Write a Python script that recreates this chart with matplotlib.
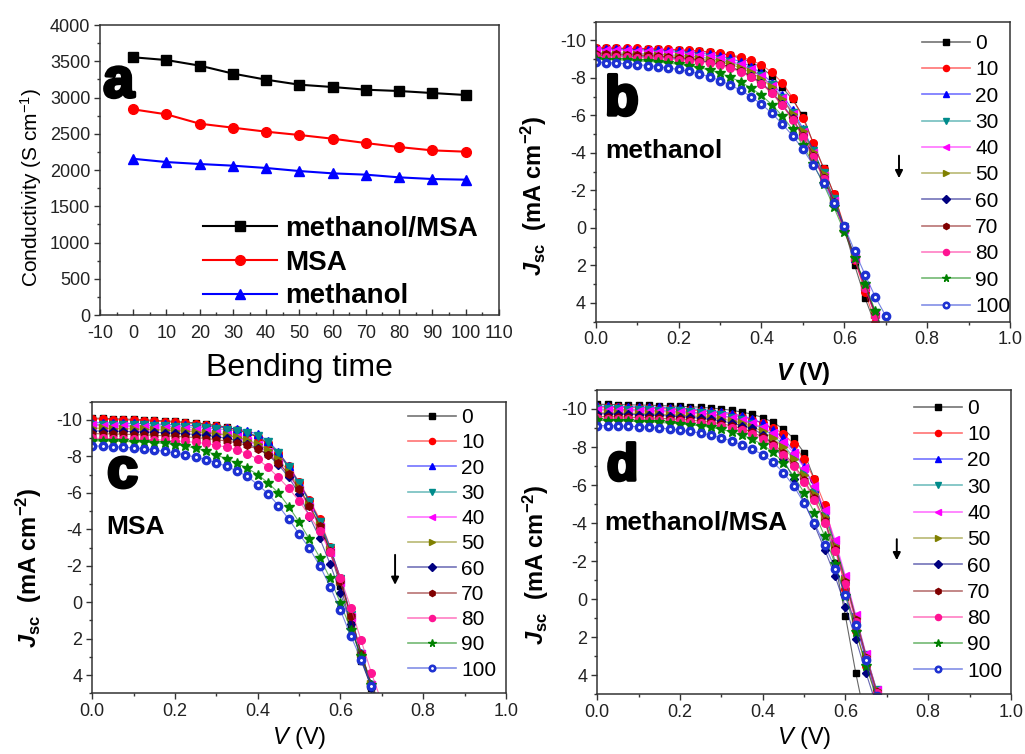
import matplotlib
matplotlib.use('Agg')
import matplotlib.pyplot as plt
import matplotlib.patheffects as pe
from matplotlib.colors import to_rgba
from matplotlib.lines import Line2D
from matplotlib.ticker import MultipleLocator, FormatStrFormatter
from matplotlib.legend_handler import HandlerTuple

plt.rcParams['font.family'] = ['Liberation Sans', 'DejaVu Sans']
plt.rcParams['axes.unicode_minus'] = False
plt.rcParams['mathtext.fontset'] = 'custom'
plt.rcParams['mathtext.rm'] = 'Liberation Sans'
plt.rcParams['mathtext.it'] = 'Liberation Sans:italic:bold'
plt.rcParams['mathtext.bf'] = 'Liberation Sans:bold'
plt.rcParams['mathtext.sf'] = 'Liberation Sans:italic'

# ---- panel a: conductivity vs bending cycles
bend_time = [0, 10, 20, 30, 40, 50, 60, 70, 80, 90, 100]
cond_meoh_msa = [3555, 3517, 3440, 3330, 3246, 3177, 3145, 3108, 3090, 3062, 3035]
cond_msa = [2837, 2768, 2639, 2584, 2529, 2483, 2432, 2372, 2317, 2271, 2253]
cond_meoh = [2155, 2110, 2083, 2060, 2028, 1986, 1954, 1936, 1899, 1876, 1867]

# ---- panels b-d: J-V curves after n bending cycles
voltage = [0.000, 0.025, 0.050, 0.075, 0.100, 0.125, 0.150, 0.175, 0.200, 0.225,
           0.250, 0.275, 0.300, 0.325, 0.350, 0.375, 0.400, 0.425, 0.450, 0.475,
           0.500, 0.525, 0.550, 0.575, 0.600, 0.625, 0.650, 0.675, 0.700, 0.725]
cycle_labels = ['0', '10', '20', '30', '40', '50', '60', '70', '80', '90', '100']

jv_methanol = [
    [-9.60, -9.59, -9.58, -9.57, -9.56, -9.55, -9.53, -9.51, -9.49, -9.46, -9.42, -9.37, -9.30, -9.20, -9.05, -8.85, -8.55, -8.10, -7.50, -6.85, -6.00, -4.50, -3.20, -1.80, 0.00, 2.00, 3.75, 5.20],
    [-9.62, -9.61, -9.60, -9.59, -9.58, -9.57, -9.55, -9.53, -9.51, -9.48, -9.44, -9.39, -9.32, -9.24, -9.12, -8.95, -8.70, -8.30, -7.75, -6.95, -5.85, -4.55, -3.15, -1.80, -0.10, 1.70, 3.40, 5.10],
    [-9.55, -9.54, -9.53, -9.52, -9.51, -9.49, -9.47, -9.45, -9.42, -9.38, -9.33, -9.26, -9.17, -9.04, -8.86, -8.60, -8.25, -7.75, -7.10, -6.30, -5.30, -4.15, -2.90, -1.55, 0.00, 1.60, 3.10, 4.55, 5.90],
    [-9.35, -9.34, -9.33, -9.32, -9.30, -9.28, -9.26, -9.23, -9.20, -9.16, -9.11, -9.04, -8.95, -8.83, -8.66, -8.42, -8.08, -7.60, -6.95, -6.15, -5.20, -4.10, -2.90, -1.55, -0.05, 1.55, 3.10, 4.55, 5.90],
    [-9.50, -9.49, -9.48, -9.47, -9.45, -9.43, -9.41, -9.38, -9.34, -9.30, -9.24, -9.16, -9.06, -8.92, -8.72, -8.45, -8.08, -7.58, -6.92, -6.10, -5.10, -3.98, -2.75, -1.42, 0.05, 1.62, 3.15, 4.60, 5.95],
    [-9.25, -9.24, -9.23, -9.22, -9.20, -9.18, -9.16, -9.13, -9.10, -9.06, -9.01, -8.94, -8.85, -8.72, -8.54, -8.30, -7.96, -7.50, -6.88, -6.10, -5.15, -4.05, -2.85, -1.50, 0.00, 1.58, 3.12, 4.58, 5.95],
    [-9.20, -9.19, -9.18, -9.16, -9.14, -9.12, -9.10, -9.07, -9.03, -8.98, -8.92, -8.84, -8.73, -8.58, -8.38, -8.10, -7.74, -7.25, -6.62, -5.85, -4.92, -3.85, -2.68, -1.38, 0.05, 1.62, 3.16, 4.62, 6.00],
    [-9.30, -9.29, -9.27, -9.25, -9.23, -9.20, -9.17, -9.13, -9.08, -9.02, -8.95, -8.86, -8.74, -8.58, -8.36, -8.07, -7.70, -7.20, -6.56, -5.80, -4.88, -3.82, -2.65, -1.35, 0.08, 1.65, 3.20, 4.66, 6.00],
    [-9.15, -9.14, -9.13, -9.11, -9.09, -9.07, -9.04, -9.01, -8.97, -8.92, -8.86, -8.78, -8.67, -8.52, -8.32, -8.04, -7.68, -7.18, -6.55, -5.78, -4.86, -3.80, -2.62, -1.32, 0.10, 1.68, 3.22, 4.70, 6.05],
    [-9.00, -8.98, -8.96, -8.94, -8.91, -8.88, -8.84, -8.79, -8.73, -8.65, -8.55, -8.42, -8.25, -8.04, -7.78, -7.46, -7.07, -6.58, -5.98, -5.25, -4.40, -3.42, -2.32, -1.10, 0.22, 1.60, 3.00, 4.45, 5.85],
    [-8.85, -8.82, -8.79, -8.75, -8.71, -8.66, -8.60, -8.53, -8.45, -8.35, -8.22, -8.06, -7.86, -7.62, -7.34, -7.00, -6.60, -6.12, -5.55, -4.92, -4.20, -3.35, -2.40, -1.30, -0.10, 1.25, 2.50, 3.70, 4.70, 5.70],
]

jv_msa = [
    [-10.10, -10.09, -10.07, -10.05, -10.03, -10.01, -9.98, -9.95, -9.92, -9.88, -9.84, -9.78, -9.70, -9.60, -9.47, -9.30, -9.05, -8.70, -8.15, -7.40, -6.50, -5.55, -4.45, -2.75, -0.90, 1.20, 3.20, 4.70, 6.00],
    [-10.05, -10.04, -10.02, -10.00, -9.98, -9.96, -9.93, -9.90, -9.87, -9.83, -9.79, -9.74, -9.67, -9.58, -9.46, -9.30, -9.06, -8.72, -8.20, -7.48, -6.60, -5.62, -4.55, -3.05, -1.30, 0.80, 2.90, 4.55, 6.00],
    [-9.85, -9.84, -9.83, -9.82, -9.81, -9.80, -9.78, -9.76, -9.74, -9.72, -9.69, -9.66, -9.62, -9.57, -9.50, -9.40, -9.22, -8.85, -8.25, -7.45, -6.55, -5.55, -4.40, -3.00, -1.30, 0.70, 2.80, 4.50, 6.00],
    [-9.75, -9.74, -9.73, -9.72, -9.71, -9.70, -9.68, -9.66, -9.64, -9.62, -9.59, -9.56, -9.52, -9.47, -9.40, -9.30, -9.12, -8.78, -8.20, -7.42, -6.52, -5.52, -4.38, -2.98, -1.28, 0.72, 2.82, 4.52, 6.00],
    [-9.70, -9.69, -9.67, -9.65, -9.63, -9.61, -9.58, -9.55, -9.52, -9.48, -9.43, -9.37, -9.29, -9.19, -9.05, -8.86, -8.60, -8.22, -7.68, -6.98, -6.15, -5.20, -4.10, -2.75, -1.10, 0.80, 2.85, 4.55, 6.00],
    [-9.55, -9.54, -9.53, -9.52, -9.51, -9.49, -9.47, -9.45, -9.42, -9.39, -9.35, -9.30, -9.24, -9.16, -9.05, -8.90, -8.68, -8.35, -7.85, -7.15, -6.30, -5.33, -4.22, -2.85, -1.18, 0.75, 2.80, 4.50, 6.00],
    [-9.40, -9.39, -9.38, -9.37, -9.36, -9.34, -9.32, -9.30, -9.27, -9.24, -9.20, -9.15, -9.08, -8.99, -8.87, -8.70, -8.45, -8.08, -7.55, -6.85, -5.95, -4.70, -3.50, -2.10, -0.50, 1.20, 3.05, 4.70, 6.10],
    [-9.25, -9.24, -9.23, -9.22, -9.20, -9.18, -9.16, -9.13, -9.10, -9.07, -9.03, -8.98, -8.92, -8.84, -8.74, -8.60, -8.40, -8.10, -7.65, -7.02, -6.22, -5.28, -4.18, -2.82, -1.15, 0.78, 2.82, 4.52, 6.00],
    [-9.00, -8.99, -8.98, -8.97, -8.96, -8.94, -8.92, -8.89, -8.86, -8.82, -8.77, -8.71, -8.62, -8.50, -8.35, -8.15, -7.85, -7.40, -6.85, -6.25, -5.55, -4.75, -3.90, -2.75, -1.35, 0.30, 2.10, 3.90, 5.50],
    [-8.85, -8.84, -8.83, -8.82, -8.80, -8.78, -8.75, -8.71, -8.65, -8.57, -8.45, -8.28, -8.08, -7.86, -7.62, -7.35, -7.00, -6.55, -6.00, -5.25, -4.40, -3.45, -2.45, -1.30, 0.05, 1.50, 2.95, 4.55, 6.10],
    [-8.58, -8.56, -8.54, -8.51, -8.47, -8.42, -8.35, -8.27, -8.18, -8.08, -7.96, -7.82, -7.65, -7.45, -7.20, -6.90, -6.45, -5.95, -5.30, -4.55, -3.75, -2.95, -2.00, -0.85, 0.45, 1.85, 3.15, 4.60, 6.00],
]

jv_meoh_msa = [
    [-10.25, -10.24, -10.23, -10.22, -10.21, -10.20, -10.18, -10.16, -10.14, -10.12, -10.09, -10.05, -10.00, -9.93, -9.84, -9.72, -9.55, -9.30, -8.95, -8.45, -7.70, -6.30, -4.30, -1.90, 0.90, 3.90, 6.50],
    [-10.10, -10.09, -10.08, -10.07, -10.06, -10.04, -10.02, -10.00, -9.97, -9.94, -9.90, -9.85, -9.78, -9.69, -9.57, -9.43, -9.25, -9.00, -8.70, -8.15, -7.35, -6.30, -4.95, -2.80, -0.55, 1.65, 3.50, 5.10],
    [-10.15, -10.14, -10.13, -10.12, -10.11, -10.10, -10.08, -10.06, -10.04, -10.01, -9.97, -9.92, -9.85, -9.76, -9.64, -9.48, -9.25, -8.92, -8.45, -7.80, -6.95, -5.85, -4.50, -2.90, -1.05, 1.00, 3.00, 4.80, 6.50],
    [-10.00, -9.99, -9.98, -9.97, -9.96, -9.94, -9.92, -9.90, -9.87, -9.84, -9.80, -9.74, -9.66, -9.55, -9.41, -9.22, -8.96, -8.60, -8.10, -7.45, -6.62, -5.60, -4.35, -2.85, -1.05, 0.95, 2.95, 4.75, 6.40],
    [-9.95, -9.94, -9.93, -9.92, -9.91, -9.89, -9.87, -9.85, -9.82, -9.79, -9.75, -9.70, -9.63, -9.54, -9.42, -9.26, -9.04, -8.72, -8.28, -7.68, -6.92, -5.95, -4.70, -3.10, -1.20, 0.85, 2.90, 4.75, 6.40],
    [-9.80, -9.79, -9.78, -9.77, -9.76, -9.74, -9.72, -9.70, -9.67, -9.64, -9.60, -9.55, -9.48, -9.38, -9.25, -9.07, -8.82, -8.47, -7.98, -7.35, -6.55, -5.55, -4.32, -2.82, -1.02, 1.00, 3.00, 4.80, 6.50],
    [-9.75, -9.74, -9.73, -9.72, -9.70, -9.68, -9.66, -9.63, -9.60, -9.56, -9.51, -9.45, -9.37, -9.26, -9.12, -8.98, -8.65, -8.15, -7.35, -6.30, -5.10, -3.90, -2.60, -1.20, 0.40, 2.10, 3.90, 5.60],
    [-9.60, -9.59, -9.58, -9.57, -9.55, -9.53, -9.51, -9.48, -9.45, -9.41, -9.36, -9.30, -9.22, -9.11, -8.97, -8.78, -8.52, -8.17, -7.70, -7.08, -6.28, -5.30, -4.10, -2.65, -0.90, 1.10, 3.10, 4.90, 6.60],
    [-9.50, -9.49, -9.48, -9.47, -9.45, -9.43, -9.41, -9.38, -9.35, -9.31, -9.26, -9.20, -9.12, -9.01, -8.87, -8.68, -8.42, -8.07, -7.60, -6.98, -6.18, -5.20, -4.00, -2.55, -0.80, 1.20, 3.15, 4.95, 6.60],
    [-9.40, -9.39, -9.38, -9.36, -9.34, -9.32, -9.29, -9.26, -9.22, -9.17, -9.11, -9.03, -8.93, -8.80, -8.63, -8.41, -8.12, -7.72, -7.18, -6.48, -5.60, -4.55, -3.30, -1.85, -0.15, 1.70, 3.50, 5.20],
    [-9.13, -9.12, -9.11, -9.09, -9.07, -9.04, -9.00, -8.95, -8.89, -8.82, -8.73, -8.62, -8.48, -8.31, -8.11, -7.88, -7.60, -7.20, -6.65, -5.95, -5.05, -4.00, -2.85, -1.60, -0.20, 1.35, 3.20, 5.10],
]

colors = ['black', '#ff0000', '#0000ff', '#008b8b', '#ff00ff', '#808000',
          '#000080', '#800000', '#ff1493', '#008000', '#1e32d2']
markers = ['s', 'o', '^', 'v', '<', '>', 'D', 'h', 'o', '*', 'o']
msizes = [5, 5.5, 5.5, 5.5, 5.5, 5.5, 4.5, 5.5, 5.5, 7, 6]

heavy = [pe.withStroke(linewidth=2.5, foreground='black')]


def style_axes(ax):
    for s in ax.spines.values():
        s.set_color('#333333')
        s.set_linewidth(1.1)


def draw_jv(ax, curves, tag, tag_size, tag_xy, name, name_xy, leg_xy, arrow,
            xlabel, ylab_xy, xlab_y, spacing):
    for j, c, m, ms in zip(curves, colors, markers, msizes):
        n = len(j)
        ax.plot(voltage[:n], j, color=to_rgba(c, 0.6), marker=m, ms=ms, mec=c,
                mfc=c, lw=0.8)
    # white centres of the 100-cycle symbols
    n = len(curves[-1])
    ax.plot(voltage[:n], curves[-1], 'o', ms=1.1, color='white', mec='white')

    # legend handles (smaller symbols, pale lines)
    handles = []
    for c, m, ms in zip(colors, markers, msizes):
        handles.append(Line2D([], [], color=to_rgba(c, 0.55), lw=1.2, marker=m,
                              ms=ms * 0.8, mec=c, mfc=c))
    handles[-1] = (handles[-1], Line2D([], [], ls='none', marker='o', ms=1.0,
                                       color='white', mec='white'))

    ax.set_xlim(0, 1.0)
    ax.set_ylim(5, -11)
    ax.xaxis.set_major_locator(MultipleLocator(0.2))
    ax.xaxis.set_minor_locator(MultipleLocator(0.1))
    ax.xaxis.set_major_formatter(FormatStrFormatter('%.1f'))
    ax.yaxis.set_minor_locator(MultipleLocator(1))
    ax.set_yticks([-10, -8, -6, -4, -2, 0, 2, 4])
    ax.tick_params(which='both', direction='out', width=1, colors='#333333',
                   labelcolor='#222222', labelsize=13, pad=3)
    ax.tick_params(which='major', length=4)
    ax.tick_params(which='minor', length=2.5)
    style_axes(ax)

    ax.set_ylabel(r'$\mathit{J}_{\mathbf{sc}}$  (mA cm$^{\mathbf{-2}}$)',
                  fontsize=17, fontweight='bold')
    ax.yaxis.set_label_coords(ylab_xy[0], ylab_xy[1])
    if xlabel == 'bold':
        ax.set_xlabel(r'$\mathit{V}$ (V)', fontsize=17, fontweight='bold')
    else:
        ax.set_xlabel(r'$\mathsf{V}$ (V)', fontsize=17)
    ax.xaxis.set_label_coords(0.5, xlab_y)

    ax.text(tag_xy[0], tag_xy[1], tag, transform=ax.transAxes, fontsize=tag_size,
            fontweight='bold', va='baseline', ha='left', path_effects=heavy)
    ax.text(name_xy[0], name_xy[1], name, transform=ax.transAxes, fontsize=19,
            fontweight='bold', va='baseline', ha='left')

    ax.annotate('', xy=(arrow[0], arrow[2]), xytext=(arrow[0], arrow[1]),
                arrowprops=dict(arrowstyle='-|>', color='black', lw=1.4,
                                mutation_scale=11))

    ax.legend(handles, cycle_labels, loc='upper left', bbox_to_anchor=leg_xy,
              frameon=False, fontsize=15, handlelength=2.3, handletextpad=0.25,
              labelspacing=spacing, borderpad=0, borderaxespad=0, numpoints=1,
              handler_map={tuple: HandlerTuple(ndivide=1)})


fig = plt.figure(figsize=(10.25, 7.54), dpi=100)

# ---- a
ax_a = fig.add_axes([0.0976, 0.5822, 0.389, 0.3846])
ax_a.plot(bend_time, cond_meoh_msa, color='black', marker='s', ms=7, lw=1.5,
          label='methanol/MSA')
ax_a.plot(bend_time, cond_msa, color='#ff0000', marker='o', ms=7, lw=1.5, label='MSA')
ax_a.plot(bend_time, cond_meoh, color='#0000ff', marker='^', ms=7, lw=1.5,
          label='methanol')
ax_a.set_xlim(-10, 110)
ax_a.set_ylim(0, 4000)
ax_a.xaxis.set_major_locator(MultipleLocator(10))
ax_a.xaxis.set_minor_locator(MultipleLocator(5))
ax_a.yaxis.set_major_locator(MultipleLocator(500))
ax_a.yaxis.set_minor_locator(MultipleLocator(250))
ax_a.tick_params(which='both', width=1, colors='#333333', labelcolor='#222222',
                 labelsize=13)
ax_a.tick_params(axis='x', which='both', direction='in', pad=7)
ax_a.tick_params(axis='y', which='both', direction='out', pad=3)
ax_a.tick_params(which='major', length=4)
ax_a.tick_params(which='minor', length=2.5)
style_axes(ax_a)
ax_a.set_ylabel('Conductivity (S cm$^{\\mathrm{-1}}$)', fontsize=15)
ax_a.yaxis.set_label_coords(-0.14, 0.44)
ax_a.set_xlabel('Bending time', fontsize=23)
ax_a.xaxis.set_label_coords(0.5, -0.13)
ax_a.text(0.008, 0.752, 'a', transform=ax_a.transAxes, fontsize=40,
          fontweight='bold', va='baseline', ha='left', path_effects=heavy)
ax_a.legend(loc='upper left', bbox_to_anchor=(0.258, 0.342), frameon=False,
            prop={'weight': 'bold', 'size': 20}, handlelength=2.66,
            handletextpad=0.29, labelspacing=0.28, borderpad=0, borderaxespad=0,
            numpoints=1)

# ---- b
ax_b = fig.add_axes([0.5812, 0.5736, 0.4042, 0.3976])
draw_jv(ax_b, jv_methanol, 'b', 40, (0.022, 0.689), 'methanol', (0.022, 0.545),
        (0.788, 0.959), (0.732, -4.0, -2.5), 'bold', (-0.112, 0.42), -0.13, 0.35)

# ---- c
ax_c = fig.add_axes([0.0900, 0.0805, 0.4036, 0.3867])
draw_jv(ax_c, jv_msa, 'c', 40, (0.036, 0.707), 'MSA', (0.033, 0.546),
        (0.763, 0.978), (0.732, -2.75, -0.8), 'normal', (-0.116, 0.431), -0.11, 0.3)

# ---- d
ax_d = fig.add_axes([0.5827, 0.0792, 0.4036, 0.4036])
draw_jv(ax_d, jv_meoh_msa, 'd', 37, (0.023, 0.704), 'methanol/MSA', (0.016, 0.543),
        (0.766, 0.971), (0.724, -3.3, -1.9), 'normal', (-0.112, 0.425), -0.1, 0.35)

fig.savefig('out.png', dpi=100)
